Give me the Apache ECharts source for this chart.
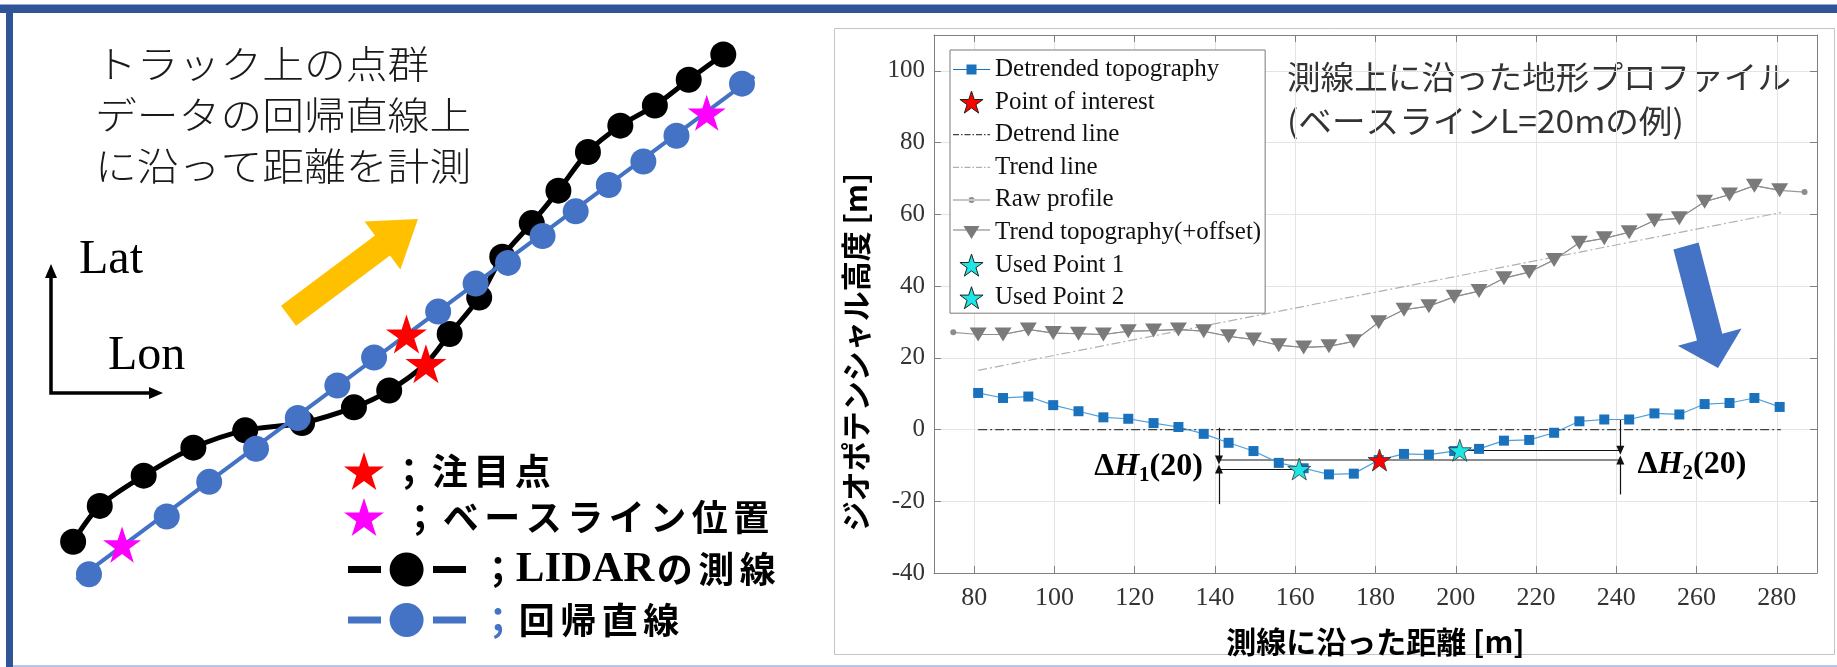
<!DOCTYPE html>
<html><head><meta charset="utf-8">
<script src="https://cdn.jsdelivr.net/npm/echarts@6/dist/echarts.min.js"></script>
<style>html,body{margin:0;padding:0;background:#fff}#c{width:1837px;height:667px}</style>
</head><body><div id="c"></div>
<script>
// ================= LEFT PANEL DATA (schematic, Lon/Lat units 0-100) =================
const lidarLon = [4.6, 8.3, 14.4, 21.3, 28.5, 36.4, 43.6, 48.5, 56.9, 61.0, 64.2, 68.3, 72.0, 76.1, 80.6, 85.4, 90.1, 94.9];
const lidarLat = [10.4, 16.8, 22.2, 27.2, 30.3, 31.6, 34.4, 37.4, 47.5, 54.0, 61.3, 67.3, 73.1, 80.0, 84.7, 88.3, 92.9, 97.4];
const regLon = [6.8, 17.6, 23.5, 30.0, 35.8, 41.3, 46.4, 55.3, 60.5, 65.0, 69.8, 74.4, 79.0, 83.8, 88.4, 97.5];
const regLat = [4.6, 14.9, 21.1, 27.0, 32.5, 38.3, 43.3, 51.5, 56.5, 60.2, 65.0, 69.4, 74.1, 78.3, 82.9, 92.2];
const regLineLon = [5.1, 99.2];
const regLineLat = [3.6, 93.5];
const poiLon = [50.9, 53.6];
const poiLat = [47.5, 42.2];
const baseLon = [11.4, 92.6];
const baseLat = [9.9, 87.0];

// ================= RIGHT PANEL DATA =================
const distX = [81.0, 87.2, 93.5, 99.7, 106.0, 112.2, 118.4, 124.7, 130.9, 137.2, 143.4, 149.6, 155.9, 162.1, 168.4, 174.6, 180.8, 187.1, 193.3, 199.6, 205.8, 212.0, 218.3, 224.5, 230.8, 237.0, 243.2, 249.5, 255.7, 262.0, 268.2, 274.4, 280.7];
const detrendedY = [10.2, 8.8, 9.2, 6.8, 5.1, 3.4, 3.0, 1.8, 0.7, -1.2, -3.7, -6.0, -9.3, -10.8, -12.5, -12.3, -8.5, -6.8, -7.0, -6.0, -5.4, -3.1, -2.9, -0.9, 2.3, 2.8, 2.8, 4.5, 4.2, 7.1, 7.4, 8.8, 6.3];
const trendTopoY = [26.5, 26.5, 27.9, 26.9, 26.7, 26.5, 27.4, 27.6, 27.9, 27.4, 26.0, 25.1, 23.5, 22.9, 23.2, 24.6, 29.9, 33.4, 34.4, 37.0, 38.6, 42.2, 43.9, 47.3, 52.1, 53.3, 55.0, 58.3, 58.9, 63.5, 65.5, 68.0, 66.7];
const rawX = [74.8, 81.0, 87.2, 93.5, 99.7, 106.0, 112.2, 118.4, 124.7, 130.9, 137.2, 143.4, 149.6, 155.9, 162.1, 168.4, 174.6, 180.8, 187.1, 193.3, 199.6, 205.8, 212.0, 218.3, 224.5, 230.8, 237.0, 243.2, 249.5, 255.7, 262.0, 268.2, 274.4, 280.7, 286.9];
const rawY = [27.1, 26.5, 26.5, 27.9, 26.9, 26.7, 26.5, 27.4, 27.6, 27.9, 27.4, 26.0, 25.1, 23.5, 22.9, 23.2, 24.6, 29.9, 33.4, 34.4, 37.0, 38.6, 42.2, 43.9, 47.3, 52.1, 53.3, 55.0, 58.3, 58.9, 63.5, 65.5, 68.0, 66.7, 66.2];
const detrendLineX = [81, 281];
const detrendLineY = [0, 0];
const trendLineX = [81, 281];
const trendLineY = [16.5, 60.5];
const poiPoint = [181, -8.5];
const usedPoint1 = [161, -11.0];
const usedPoint2 = [201, -5.8];
const dhX = [141, 241];            // ΔH1 / ΔH2 measurement positions
const dh1Span = [0.5, -20.8];      // extent of ΔH1 vertical marker
const dh2Span = [2.8, -18.1];      // extent of ΔH2 vertical marker
const dhLabelPos = [[137, -10.3], [245.3, -9.7]];

// ================= helpers =================
const zip = (xs, ys) => xs.map((x, i) => [x, ys[i]]);
const STAR = 'path://M50,0L61.23,34.55L97.55,34.55L68.17,55.9L79.39,90.45L50,69.1L20.61,90.45L31.83,55.9L2.45,34.55L38.77,34.55Z';
const STAR_S = 'path://M11.5,0L14.08,7.95L22.44,7.95L15.68,12.86L18.26,20.8L11.5,15.89L4.74,20.8L7.32,12.86L0.56,7.95L8.92,7.95Z';
const DASHDOT = 'path://M0,0h6v1.2h-6zM8,0h1.5v1.2h-1.5zM11.5,0h6v1.2h-6zM19.5,0h1.5v1.2h-1.5zM23,0h6v1.2h-6zM31,0h1.5v1.2h-1.5zM34.5,0h2.5v1.2h-2.5z';
const LINE_CIRCLE = 'path://M0,-3.5h33v7h-33zM41.6,0a17,17 0 1,0 34,0a17,17 0 1,0 -34,0zM85,-3.5h33v7h-33z';
const SERIF = 'Liberation Serif';
const JP = 'Noto Sans CJK JP';

const trackPts = zip(lidarLon, lidarLat).concat([[poiLon[1], poiLat[1]]]).sort((a, b) => a[0] - b[0]);

const annoSegs = [
  { from: [dhX[0], poiPoint[1]], to: [dhX[1], poiPoint[1]], color: '#8c8c8c', w: 2, arrow: false },
  { from: [dhX[0], usedPoint1[1]], to: [usedPoint1[0], usedPoint1[1]], color: '#111', w: 1.2, arrow: false },
  { from: [usedPoint2[0], usedPoint2[1]], to: [dhX[1], usedPoint2[1]], color: '#111', w: 1.2, arrow: false },
  { from: [dhX[0], dh1Span[0]], to: [dhX[0], poiPoint[1]], color: '#111', w: 1.2, arrow: true },
  { from: [dhX[0], dh1Span[1]], to: [dhX[0], usedPoint1[1]], color: '#111', w: 1.2, arrow: true },
  { from: [dhX[1], dh2Span[0]], to: [dhX[1], usedPoint2[1]], color: '#111', w: 1.2, arrow: true },
  { from: [dhX[1], dh2Span[1]], to: [dhX[1], poiPoint[1]], color: '#111', w: 1.2, arrow: true }
];

const chars = (s, k) => s.split('').map(c => '{' + k + '|' + c + '}').join('');
const cjkBold = { fontFamily: JP, fontWeight: 'bold', fontSize: 36, lineHeight: 40, align: 'center', color: '#000' };

const chart = echarts.init(document.getElementById('c'), null, { renderer: 'canvas' });

const axisGray = '#808080';
const rightAxisCommon = {
  gridIndex: 1, type: 'value',
  axisLine: { show: true, onZero: false, lineStyle: { color: axisGray, width: 1 } },
  axisTick: { show: true, inside: true, length: 7, lineStyle: { color: axisGray } }
};

const option = {
  backgroundColor: '#ffffff',
  animation: false,
  grid: [
    { left: 40, top: 40, width: 720, height: 560 },
    { left: 934, top: 35, width: 883, height: 538 }
  ],
  xAxis: [
    { gridIndex: 0, type: 'value', min: 0, max: 100, show: false },
    Object.assign({}, rightAxisCommon, {
      min: 70, max: 290, minInterval: 20, maxInterval: 20, splitNumber: 11,
      axisLabel: { fontFamily: SERIF, fontSize: 26, color: '#333', margin: 12, showMinLabel: false, showMaxLabel: false },
      splitLine: { show: true, lineStyle: { color: '#e4e4e4' } },
      name: '測線に沿った距離 [m]', nameLocation: 'middle', nameGap: 54,
      nameTextStyle: { fontFamily: JP, fontWeight: 'bold', fontSize: 30, color: '#000' }
    }),
    Object.assign({}, rightAxisCommon, {
      position: 'top', min: 70, max: 290, minInterval: 20, maxInterval: 20, splitNumber: 11,
      axisLabel: { show: false }, splitLine: { show: false }
    })
  ],
  yAxis: [
    { gridIndex: 0, type: 'value', min: 0, max: 100, show: false },
    Object.assign({}, rightAxisCommon, {
      min: -40, max: 110, interval: 20,
      axisLabel: { fontFamily: SERIF, fontSize: 25, color: '#333', margin: 9, showMaxLabel: false },
      splitLine: { show: true, lineStyle: { color: '#e4e4e4' } }
    }),
    Object.assign({}, rightAxisCommon, {
      position: 'right', min: -40, max: 110, interval: 20,
      axisLabel: { show: false }, splitLine: { show: false }
    })
  ],
  legend: [
    {
      orient: 'vertical', left: 950, top: 50, padding: [7, 4, 3, 3], itemGap: 7.6,
      itemWidth: 37, itemHeight: 22, symbolKeepAspect: true, selectedMode: false,
      backgroundColor: '#fff', borderColor: '#7a7a7a', borderWidth: 1,
      itemStyle: { borderWidth: 0 },
      textStyle: { fontFamily: SERIF, fontSize: 25, color: '#111', lineHeight: 22 },
      data: [
        { name: 'Detrended topography', icon: 'path://M0,4.5h37v1h-37zM13.5,0h10v10h-10z', itemStyle: { color: '#1a72bd' } },
        { name: 'Point of interest', icon: STAR_S, itemStyle: { color: '#ff0000', borderColor: '#222', borderWidth: 1 } },
        { name: 'Detrend line', icon: DASHDOT, itemStyle: { color: '#404040' } },
        { name: 'Trend line', icon: DASHDOT, itemStyle: { color: '#b0b0b0' } },
        { name: 'Raw profile', icon: 'path://M0,2.5h37v1h-37zM15.5,3a3,3 0 1,0 6,0a3,3 0 1,0 -6,0z', itemStyle: { color: '#8c8c8c' } },
        { name: 'Trend topography(+offset)', icon: 'path://M0,3.5h37v1h-37zM10.5,0h16l-8,13z', itemStyle: { color: '#7a7a7a' } },
        { name: 'Used Point 1', icon: STAR_S, itemStyle: { color: '#1ee6e6', borderColor: '#222', borderWidth: 1 } },
        { name: 'Used Point 2', icon: STAR_S, itemStyle: { color: '#1ee6e6', borderColor: '#222', borderWidth: 1 } }
      ]
    },
    {
      orient: 'vertical', left: 344, top: 452, padding: 0, itemGap: 8,
      itemWidth: 40, itemHeight: 40, symbolKeepAspect: true, selectedMode: false,
      itemStyle: { borderWidth: 0, opacity: 1 },
      data: [
        { name: '注目点', icon: STAR, itemStyle: { color: '#ff0000' } },
        { name: 'ベースライン位置', icon: STAR, itemStyle: { color: '#ff00ff' } }
      ],
      formatter: n => n === '注目点' ? '{p|；}' + chars('注目点', 'c') : '{g| }{p|；}' + chars('ベースライン位置', 'c'),
      textStyle: {
        rich: {
          c: Object.assign({}, cjkBold, { width: 41.5 }),
          p: Object.assign({}, cjkBold, { width: 40 }),
          g: { width: 11, fontSize: 10, lineHeight: 40, align: 'center' }
        }
      }
    },
    {
      orient: 'vertical', left: 348, top: 548, padding: 0, itemGap: 11,
      itemWidth: 118, itemHeight: 34, symbolKeepAspect: true, selectedMode: false,
      itemStyle: { borderWidth: 0, opacity: 1 },
      data: [
        { name: 'LIDARの測線', icon: LINE_CIRCLE, itemStyle: { color: '#000' } },
        { name: '回帰直線', icon: LINE_CIRCLE, itemStyle: { color: '#4472C4' } }
      ],
      formatter: n => n === 'LIDARの測線'
        ? '{g|  }{p|；}{l|LIDAR}' + chars('の測線', 'c')
        : '{g|  }{pb|；}' + chars('回帰直線', 'c'),
      textStyle: {
        rich: {
          c: Object.assign({}, cjkBold, { width: 41.5 }),
          p: Object.assign({}, cjkBold, { width: 36 }),
          pb: Object.assign({}, cjkBold, { width: 36, color: '#4472C4' }),
          l: { fontFamily: SERIF, fontWeight: 'bold', fontSize: 43, lineHeight: 40, width: 138, align: 'center', color: '#000' },
          g: { width: 9, fontSize: 9, lineHeight: 40, align: 'center' }
        }
      }
    }
  ],
  series: [
    // ---------- left schematic ----------
    { name: 'LIDARの測線', type: 'line', xAxisIndex: 0, yAxisIndex: 0, data: trackPts, smooth: 0.3,
      symbol: 'none', lineStyle: { color: '#000', width: 5 }, z: 2, silent: true },
    { name: 'LIDARの測線', type: 'scatter', xAxisIndex: 0, yAxisIndex: 0, data: zip(lidarLon, lidarLat),
      symbol: 'circle', symbolSize: 26, itemStyle: { color: '#000', opacity: 1 }, z: 3, silent: true },
    { name: '回帰直線', type: 'line', xAxisIndex: 0, yAxisIndex: 0, data: zip(regLineLon, regLineLat),
      symbol: 'none', lineStyle: { color: '#4472C4', width: 4 }, z: 4, silent: true },
    { name: '回帰直線', type: 'scatter', xAxisIndex: 0, yAxisIndex: 0, data: zip(regLon, regLat),
      symbol: 'circle', symbolSize: 26, itemStyle: { color: '#4472C4', opacity: 1 }, z: 5, silent: true },
    { name: '注目点', type: 'scatter', xAxisIndex: 0, yAxisIndex: 0, data: zip(poiLon, poiLat),
      symbol: STAR, symbolSize: 41, symbolKeepAspect: true, itemStyle: { color: '#ff0000', opacity: 1 }, z: 6, silent: true },
    { name: 'ベースライン位置', type: 'scatter', xAxisIndex: 0, yAxisIndex: 0, data: zip(baseLon, baseLat),
      symbol: STAR, symbolSize: 38, symbolKeepAspect: true, itemStyle: { color: '#ff00ff', opacity: 1 }, z: 6, silent: true },

    // ---------- right profile chart ----------
    { name: 'Detrended topography', type: 'line', xAxisIndex: 1, yAxisIndex: 1, data: zip(distX, detrendedY),
      symbol: 'rect', symbolSize: 10, itemStyle: { color: '#1a72bd' }, lineStyle: { color: '#4d9fdc', width: 1.2 }, z: 6, silent: true },
    { name: 'Point of interest', type: 'scatter', xAxisIndex: 1, yAxisIndex: 1, data: [poiPoint],
      symbol: STAR, symbolSize: 23, symbolKeepAspect: true, itemStyle: { color: '#ff0000', borderColor: '#333', borderWidth: 0.8, opacity: 1 }, z: 9, silent: true },
    { name: 'Detrend line', type: 'line', xAxisIndex: 1, yAxisIndex: 1, data: zip(detrendLineX, detrendLineY),
      symbol: 'none', lineStyle: { color: '#404040', width: 1.2, type: [9, 3, 2, 3] }, z: 4, silent: true,
      markLine: {
        silent: true, animation: false, label: { show: false }, emphasis: { disabled: true },
        lineStyle: { type: 'solid' },
        data: annoSegs.map(s => [
          { coord: s.from, symbol: 'none', lineStyle: { color: s.color, width: s.w, type: 'solid' } },
          { coord: s.to, symbol: s.arrow ? 'triangle' : 'none', symbolSize: [8, 9] }
        ])
      },
      markPoint: {
        silent: true, symbol: 'circle', symbolSize: 0,
        label: {
          show: true, distance: 0, color: '#000',
          rich: {
            d: { fontFamily: SERIF, fontWeight: 'bold', fontSize: 32, lineHeight: 40, color: '#000' },
            h: { fontFamily: SERIF, fontWeight: 'bold', fontStyle: 'italic', fontSize: 32, lineHeight: 40, color: '#000' },
            s: { fontFamily: SERIF, fontWeight: 'bold', fontSize: 21, lineHeight: 24, verticalAlign: 'bottom', color: '#000' }
          }
        },
        data: [
          { coord: dhLabelPos[0], label: { position: 'left', formatter: '{d|Δ}{h|H}{s|1}{d|(20)}' } },
          { coord: dhLabelPos[1], label: { position: 'right', formatter: '{d|Δ}{h|H}{s|2}{d|(20)}' } }
        ]
      }
    },
    { name: 'Trend line', type: 'line', xAxisIndex: 1, yAxisIndex: 1, data: zip(trendLineX, trendLineY),
      symbol: 'none', lineStyle: { color: '#b0b0b0', width: 1.2, type: [9, 3, 2, 3] }, z: 1, silent: true },
    { name: 'Raw profile', type: 'line', xAxisIndex: 1, yAxisIndex: 1, data: zip(rawX, rawY),
      symbol: 'circle', symbolSize: 6, itemStyle: { color: '#8c8c8c' }, lineStyle: { color: '#9a9a9a', width: 1.2 }, z: 2, silent: true },
    { name: 'Trend topography(+offset)', type: 'line', xAxisIndex: 1, yAxisIndex: 1, data: zip(distX, trendTopoY),
      symbol: 'triangle', symbolRotate: 180, symbolSize: [17, 14], itemStyle: { color: '#7a7a7a' }, lineStyle: { color: '#8c8c8c', width: 1 }, z: 3, silent: true },
    { name: 'Used Point 1', type: 'scatter', xAxisIndex: 1, yAxisIndex: 1, data: [usedPoint1],
      symbol: STAR, symbolSize: 23, symbolKeepAspect: true, itemStyle: { color: '#1ee6e6', borderColor: '#333', borderWidth: 0.8, opacity: 1 }, z: 9, silent: true },
    { name: 'Used Point 2', type: 'scatter', xAxisIndex: 1, yAxisIndex: 1, data: [usedPoint2],
      symbol: STAR, symbolSize: 23, symbolKeepAspect: true, itemStyle: { color: '#1ee6e6', borderColor: '#333', borderWidth: 0.8, opacity: 1 }, z: 9, silent: true }
  ],
  graphic: [
    // slide frame
    { type: 'rect', silent: true, shape: { x: 0, y: 4, width: 1837, height: 1 }, style: { fill: '#8FAADC' } },
    { type: 'rect', silent: true, shape: { x: 0, y: 5, width: 1837, height: 8 }, style: { fill: '#2F5597' } },
    { type: 'rect', silent: true, shape: { x: 6, y: 5, width: 7, height: 662 }, style: { fill: '#2F5597' } },
    { type: 'rect', silent: true, shape: { x: 13, y: 665, width: 1824, height: 2 }, style: { fill: '#B4C7E7' } },
    // right picture frame
    { type: 'rect', silent: true, z: -10, shape: { x: 834.5, y: 28.5, width: 1000, height: 626 }, style: { fill: 'none', stroke: '#c4c4c4', lineWidth: 1 } },
    // left texts
    { type: 'text', silent: true, x: 95, y: 64, scaleX: 1.1, style: { text: 'トラック上の点群', fontSize: 38, fontFamily: JP, fontWeight: 300, fill: '#1a1a1a', align: 'left', verticalAlign: 'middle', textAlign: 'left', textVerticalAlign: 'middle' } },
    { type: 'text', silent: true, x: 95, y: 115, scaleX: 1.1, style: { text: 'データの回帰直線上', fontSize: 38, fontFamily: JP, fontWeight: 300, fill: '#1a1a1a', align: 'left', verticalAlign: 'middle', textAlign: 'left', textVerticalAlign: 'middle' } },
    { type: 'text', silent: true, x: 95, y: 166, scaleX: 1.1, style: { text: 'に沿って距離を計測', fontSize: 38, fontFamily: JP, fontWeight: 300, fill: '#1a1a1a', align: 'left', verticalAlign: 'middle', textAlign: 'left', textVerticalAlign: 'middle' } },
    // orange direction arrow
    { type: 'polygon', silent: true, shape: { points: [[281.0, 305.7], [375.0, 235.5], [364.6, 221.5], [418, 219], [400.4, 269.5], [390.0, 255.5], [296.0, 325.7]] }, style: { fill: '#FFC000' } },
    // Lat/Lon axes
    { type: 'polyline', silent: true, shape: { points: [[51, 272], [51, 393], [155, 393]] }, style: { stroke: '#000', lineWidth: 3.5, fill: 'none' } },
    { type: 'polygon', silent: true, shape: { points: [[51, 264], [45, 278], [57, 278]] }, style: { fill: '#000' } },
    { type: 'polygon', silent: true, shape: { points: [[163, 393], [149, 387], [149, 399]] }, style: { fill: '#000' } },
    { type: 'text', silent: true, x: 79, y: 260, style: { text: 'Lat', fontSize: 48, fontFamily: SERIF, fill: '#000', align: 'left', verticalAlign: 'middle', textAlign: 'left', textVerticalAlign: 'middle' } },
    { type: 'text', silent: true, x: 108, y: 356, style: { text: 'Lon', fontSize: 48, fontFamily: SERIF, fill: '#000', align: 'left', verticalAlign: 'middle', textAlign: 'left', textVerticalAlign: 'middle' } },
    // right titles
    { type: 'text', silent: true, x: 1287, y: 77, scaleX: 1.05, style: { text: '測線上に沿った地形プロファイル', fontSize: 32, fontFamily: JP, fontWeight: 'normal', fill: '#333', align: 'left', verticalAlign: 'middle', textAlign: 'left', textVerticalAlign: 'middle' } },
    { type: 'text', silent: true, x: 1287, y: 121, scaleX: 1.05, style: { text: '(ベースラインL=20mの例)', fontSize: 32, fontFamily: JP, fontWeight: 'normal', fill: '#333', align: 'left', verticalAlign: 'middle', textAlign: 'left', textVerticalAlign: 'middle' } },
    // blue arrow
    { type: 'polygon', silent: true, z: 20, shape: { points: [[1698.6, 242.6], [1722.3, 333.7], [1741.6, 328.5], [1718, 368], [1677.8, 345.7], [1697.1, 340.5], [1673.4, 249.4]] }, style: { fill: '#4472C4' } },
    // y axis name (rotated)
    { type: 'text', silent: true, x: 856, y: 352, rotation: Math.PI / 2, style: { text: 'ジオポテンシャル高度 [m]', fontSize: 30, fontWeight: 'bold', fontFamily: JP, fill: '#000', align: 'center', verticalAlign: 'middle', textAlign: 'center', textVerticalAlign: 'middle' } }
  ]
};

chart.setOption(option);
</script>
</body></html>
